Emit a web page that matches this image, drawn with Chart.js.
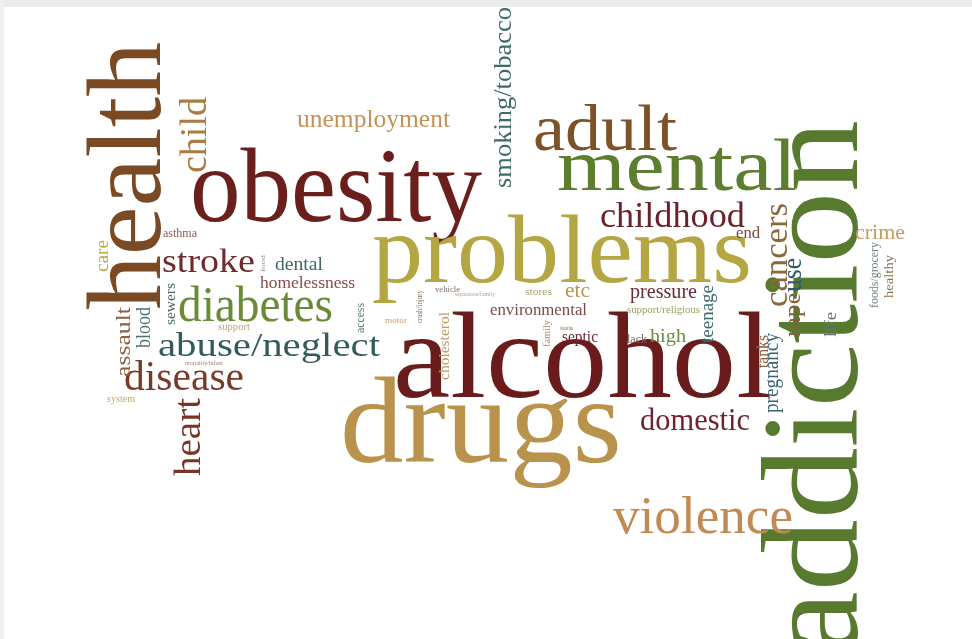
<!DOCTYPE html>
<html>
<head>
<meta charset="utf-8">
<script src="https://cdn.jsdelivr.net/npm/chart.js@4.4.0/dist/chart.umd.min.js"></script>
<style>
html, body { margin: 0; padding: 0; background: #fff; }
canvas { display: block; }
</style>
</head>
<body>
<canvas id="chart" width="972" height="639"></canvas>
<script>
'use strict';
//the words of the cloud
var words = ['health', 'obesity', 'problems', 'alcohol', 'drugs', 'addiction', 'mental', 'adult',
'childhood', 'violence', 'diabetes', 'abuse/neglect', 'disease', 'stroke', 'domestic', 'unemployment',
'smoking/tobacco', 'child', 'heart', 'cancers', 'use', 'rape', 'pregnancy', 'tanks', 'teenage', 'life',
'crime', 'foods/grocery', 'healthy', 'end', 'pressure', 'support/religious', 'high', 'lack', 'septic',
'environmental', 'etc', 'stores', 'family', 'cholesterol', 'crash/injury', 'access', 'motor', 'vehicle',
'asthma', 'care', 'sewers', 'blood', 'assault', 'system', 'support', 'homelessness', 'dental',
'mortality/infant', 'separation/family', 'deaths', 'food'];
//where each word starts (left end of the baseline, or bottom end for upright words)
var startX = [160, 190, 372, 393, 340, 857, 557, 533, 600, 613, 178, 158, 124, 162, 640, 297,
511, 206, 200, 787, 801, 800, 778, 768, 713, 836, 855, 878, 893, 736, 630, 627, 650, 627, 562,
490, 565, 525, 550, 449, 422, 364, 385, 435, 163, 108, 175, 150, 130, 107, 218, 260, 275,
185, 455, 560, 265];
var startY = [310, 221, 282, 397, 462, 655, 190, 150, 227, 533, 321, 356, 390, 272, 430, 127,
188, 173, 476, 307, 292, 337, 413, 368, 343, 337, 239, 308, 298, 238, 298, 313, 342, 343, 342,
315, 297, 295, 347, 380, 323, 333, 323, 292, 237, 272, 325, 348, 377, 402, 330, 288, 270,
365, 296, 330, 272];
//where each word ends (x for flat words, y for upright words)
var endPos = [42, 482, 752, 772, 622, 120, 797, 677, 745, 793, 333, 380, 244, 255, 750, 450,
7, 97, 398, 203, 258, 293, 333, 335, 285, 312, 905, 242, 255, 760, 697, 700, 686, 647, 598,
587, 590, 552, 320, 312, 290, 303, 407, 460, 197, 240, 283, 307, 307, 135, 250, 355, 323,
223, 495, 573, 255];
//1 = the word reads bottom to top
var upright = [1, 0, 0, 0, 0, 1, 0, 0, 0, 0, 0, 0, 0, 0, 0, 0,
1, 1, 1, 1, 1, 1, 1, 1, 1, 1, 0, 1, 1, 0, 0, 0, 0, 0, 0,
0, 0, 0, 1, 1, 1, 1, 0, 0, 0, 1, 1, 1, 1, 0, 0, 0, 0,
0, 0, 0, 1];
//weight of each word (font size)
var weights = [105, 105, 97, 122, 122, 138, 75, 66, 36, 52, 50, 34, 43, 33, 31, 25,
26, 38, 38, 33, 27, 24, 22, 16, 19, 17, 20, 12, 13, 16, 20, 10, 19, 13, 16,
16, 20, 11, 11, 15, 8, 12, 9, 9, 12, 19, 14, 20, 22, 10, 10, 16, 19,
6, 6, 6, 6];
//the colors of the words
var wordColors = ['#7a4a24', '#6b1f1d', '#b4a643', '#6a1b1c', '#b9934b', '#587a2e', '#5d7e2f', '#7e5228',
'#6c2029', '#c08a52', '#6a8a36', '#345b5c', '#7a3a2a', '#6e2a2c', '#6c2430', '#c29256',
'#3f6b66', '#ac7b44', '#783526', '#8a6a3c', '#2e5a6c', '#8c5b3c', '#3a6570', '#8a5c3c', '#3d6b6e', '#5e7874',
'#c39b5e', '#6e8080', '#8c6c4c', '#7a4a36', '#6c2a34', '#98a060', '#6b8b3f', '#7a5e56', '#6e2a30',
'#7c4a48', '#b89650', '#a8a070', '#a89060', '#bb9b60', '#8a6a50', '#5a7575', '#c0a070', '#7a6a60',
'#8a5a4a', '#b8aa50', '#4a6a6a', '#4c7272', '#8a6040', '#b8b060', '#c0a080', '#8a4c44', '#3e6868',
'#a08070', '#b0a080', '#8a7060', '#909090'];

var points = [];
for (var i = 0; i < words.length; i++) {
	points.push({x: startX[i], y: startY[i]});
}

//draws every word from its point, stretched to where it ends
var wordPlugin = {
	id: 'words',
	beforeDraw: function(chart) {
		var ctx = chart.ctx;
		ctx.save();
		ctx.fillStyle = '#ffffff';
		ctx.fillRect(0, 0, chart.width, chart.height);
		ctx.fillStyle = '#ebebeb';
		ctx.fillRect(0, 0, chart.width, 7);
		ctx.fillStyle = '#f0f0f0';
		ctx.fillRect(0, 0, 4, chart.height);
		ctx.restore();
	},
	afterDatasetsDraw: function(chart) {
		var ctx = chart.ctx;
		var xScale = chart.scales.x;
		var yScale = chart.scales.y;
		var pts = chart.getDatasetMeta(0).data;
		for (var i = 0; i < pts.length; i++) {
			var p = pts[i];
			var len = upright[i] ? p.y - yScale.getPixelForValue(endPos[i]) : xScale.getPixelForValue(endPos[i]) - p.x;
			ctx.save();
			ctx.font = weights[i] + 'px "Liberation Serif"';
			ctx.textAlign = 'left';
			ctx.textBaseline = 'alphabetic';
			var w = ctx.measureText(words[i]).width;
			ctx.translate(p.x, p.y);
			if (upright[i]) ctx.rotate(-Math.PI / 2);
			ctx.scale(len / w, 1);
			ctx.fillStyle = wordColors[i];
			ctx.fillText(words[i], 0, 0);
			ctx.restore();
		}
	}
};

var ctx = document.getElementById('chart').getContext('2d');
var cloud = new Chart(ctx, {
	type: 'scatter',
	data: {
		datasets: [{
			data: points,
			pointRadius: 0,
			pointHoverRadius: 0
		}]
	},
	options: {
		responsive: false,
		animation: false,
		layout: { padding: 0 },
		plugins: {
			legend: { display: false },
			tooltip: { enabled: false }
		},
		scales: {
			x: { type: 'linear', min: 0, max: 972, display: false },
			y: { type: 'linear', min: 0, max: 639, reverse: true, display: false }
		}
	},
	plugins: [wordPlugin]
});
</script>
</body>
</html>
